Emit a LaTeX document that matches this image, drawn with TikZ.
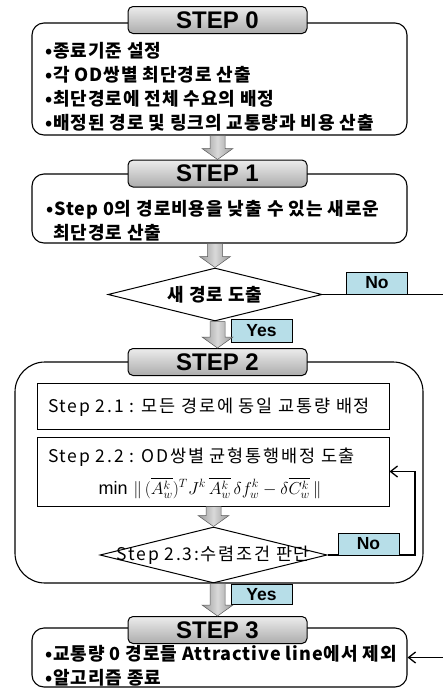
\documentclass[tikz,border=0pt]{standalone}
\usepackage{fontspec}
\setmainfont{Liberation Sans}
\newfontfamily\kor[LetterSpace=5]{Noto Sans CJK KR}
\newfontfamily\korwide[LetterSpace=10]{Noto Sans CJK KR}
\usepackage{amsmath}
\definecolor{answercyan}{RGB}{183, 222, 232}
\usetikzlibrary{arrows.meta, shapes.geometric, calc, positioning}

\tikzset{
	stepbox/.style={draw, line width=1.1pt, rounded corners=12pt, minimum width=375pt},
	steptab/.style={draw, line width=1pt, rounded corners=5pt, top color=gray!15, bottom color=gray!65,
		minimum width=179pt, minimum height=27pt, inner sep=0pt, font=\fontsize{24}{24}\selectfont\bfseries},
	subbox/.style={draw, line width=1pt, minimum width=352pt},
	decision/.style={draw, diamond, line width=1pt, inner sep=0pt},
	answer/.style={draw, line width=0.8pt, fill=answercyan, inner sep=0pt, minimum width=61pt,
		font=\fontsize{17.5}{17.5}\selectfont\bfseries},
	bodytext/.style={align=left, inner sep=0pt, font=\kor\bfseries\fontsize{18}{24}\selectfont},
	thintext/.style={align=left, inner sep=0pt, font=\korwide\fontsize{17.5}{24}\selectfont},
	fatarrow/.style={draw=gray!70!black, line width=0.5pt, left color=gray!80, right color=gray!80, middle color=gray!30},
	link/.style={line width=1.3pt, -{Straight Barb[length=7pt,width=11pt]}},
}
\newcommand\bigarrow[2]{%
	\path[fatarrow] let \p1=(#1), \p2=(#2) in
	(\x2-7.5pt,\y1) -- (\x2+7.5pt,\y1) -- (\x2+7.5pt,\y2+11pt) -- (\x2+15.5pt,\y2+11pt)
	-- (\x2,\y2) -- (\x2-15.5pt,\y2+11pt) -- (\x2-7.5pt,\y2+11pt) -- cycle;}

\begin{document}
\begin{tikzpicture}[x=1pt, y=-1pt]
	\useasboundingbox (0,0) rectangle (442,691);
	
	% step boxes
	\node[stepbox, minimum height=112pt] (s0) at (219.5,79) {};
	\node[bodytext, anchor=west] (s0txt) at (45,87) {•종료기준 설정\\•각 OD쌍별 최단경로 산출\\•최단경로에 전체 수요의 배정\\•배정된 경로 및 링크의 교통량과 비용 산출};
	
	\node[stepbox, minimum height=69pt] (s1) at (219.5,208.5) {};
	\node[bodytext, anchor=west] (s1txt) at (46,221) {•Step 0의 경로비용을 낮출 수 있는 새로운\\\hspace*{7pt}최단경로 산출};
	
	\node[decision, minimum width=214pt, minimum height=53pt] (d1) at (215,294.5) {};
	\node[bodytext] (d1txt) at (d1) {새 경로 도출};
	
	\node[stepbox, rounded corners=30pt, minimum width=408pt, minimum height=221pt] (s2) at (219,472.5) {};
	\node[subbox, minimum height=46pt] (s21) at (213,406) {};
	\node[thintext, anchor=west] (s21txt) at (48,407) {Step 2.1 : 모든 경로에 동일 교통량 배정};
	\node[subbox, minimum height=69pt] (s22) at (213,471.5) {};
	\node[thintext, anchor=west] (s22txt) at (48,457) {Step 2.2 : OD쌍별 균형통행배정 도출};
	\node[font=\fontsize{18}{18}\selectfont, inner sep=0pt] (s22eq) at (210,488)
		{$\min \,\|\,(\overline{A_w^k})^T J^k\, \overline{A_w^k}\,\delta f_w^k - \delta \overline{C_w^k}\,\|$};
	
	\node[decision, minimum width=227pt, minimum height=56pt] (d2) at (213.5,555) {};
	\node[thintext] (d2txt) at (d2) {Step 2.3:수렴조건 판단};
	
	\node[stepbox, minimum height=59pt] (s3) at (219.5,657.5) {};
	\node[bodytext, anchor=west] (s3txt) at (45,666) {•교통량 0 경로들 Attractive line에서 제외\\•알고리즘 종료};
	
	% connectors
	\coordinate (rim1) at (446,0);
	\coordinate (rim2) at (415,0);
	\draw[link] (d1.east) -- (d1.east -| rim1) |- (s3.east);
	\draw[link] (d2.east) -- (d2.east -| rim2) |- (s22.east);
	
	\node[answer, minimum height=22pt] (no1) at (377,283) {No};
	\node[answer, minimum height=23pt] (yes1) at (261.5,330.5) {Yes};
	\node[answer, minimum height=22pt] (no2) at (368.5,544) {No};
	\node[answer, minimum height=20pt] (yes2) at (261.5,594.5) {Yes};
	
	% titles
	\foreach \n/\y in {0/20,1/173.5,2/362,3/630}
		\node[steptab] (t\n) at (217.5,\y) {STEP \n};
	
	\bigarrow{s0.south}{t1.north}
	\bigarrow{s1.south}{d1.north}
	\bigarrow{d1.south}{t2.north}
	\bigarrow{s22.south}{d2.north}
	\bigarrow{d2.south}{t3.north}
\end{tikzpicture}
\end{document}
